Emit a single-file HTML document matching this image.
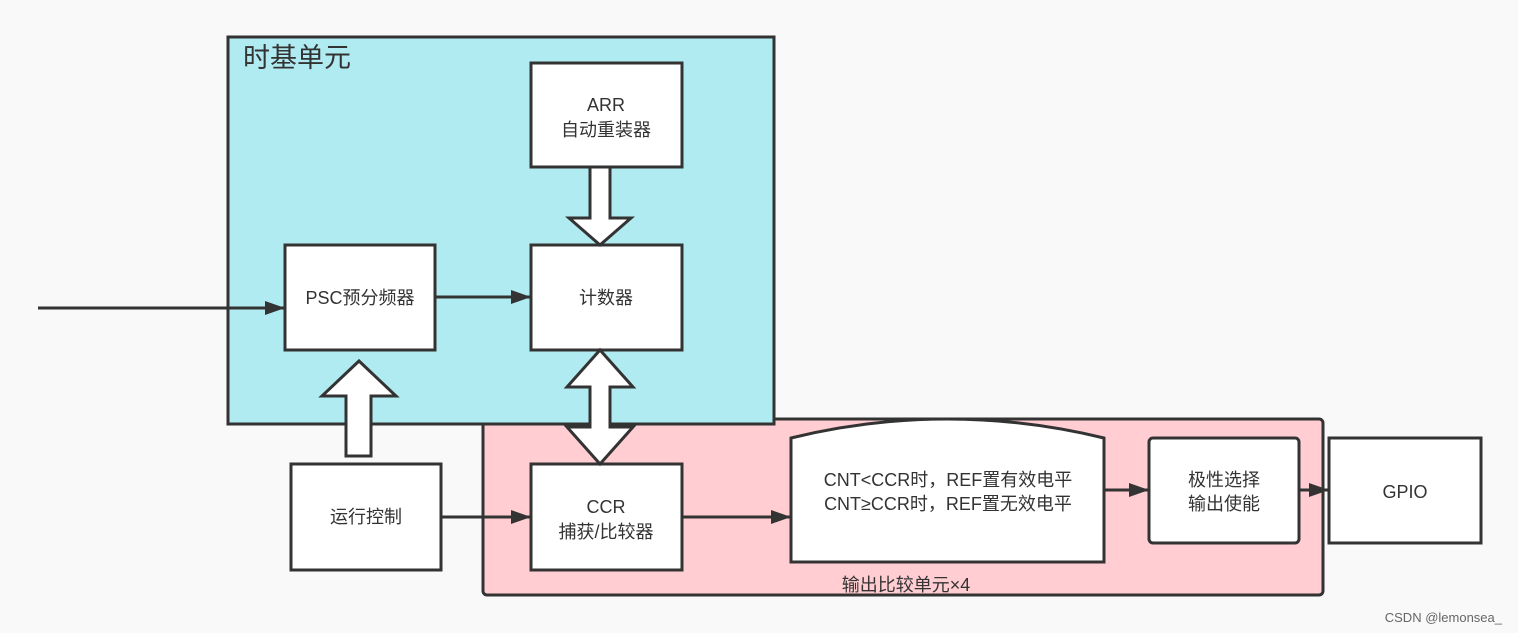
<!DOCTYPE html>
<html><head><meta charset="utf-8"><style>
body{margin:0;background:#f9f9f9;}
svg{display:block;font-family:"Liberation Sans","Noto Sans CJK SC",sans-serif;}
</style></head><body>
<svg width="1518" height="633" viewBox="0 0 1518 633">
<defs><marker id="a" markerWidth="10" markerHeight="10" refX="9" refY="5" orient="auto" markerUnits="userSpaceOnUse"><path d="M0,0 L20,5 L0,10z" fill="#333" transform="scale(0.5,1)"/></marker>
<marker id="b" viewBox="0 0 20 14" markerWidth="20" markerHeight="14" refX="20" refY="7" orient="auto" markerUnits="userSpaceOnUse"><path d="M0,0 L20,7 L0,14z" fill="#333"/></marker></defs>
<rect x="0" y="0" width="1518" height="633" fill="#f9f9f9"/>
<rect x="483" y="419" width="840" height="176" rx="4" fill="#ffcdd2" stroke="#333" stroke-width="3"/>
<rect x="228" y="37" width="546" height="387" fill="#b0ebf2" stroke="#333" stroke-width="3"/>
<text x="243" y="67" font-size="27" fill="#333">时基单元</text>
<g fill="#fff" stroke="#333" stroke-width="3">
<rect x="531" y="63" width="151" height="104"/>
<rect x="531" y="245" width="151" height="105"/>
<rect x="285" y="245" width="150" height="105"/>
<rect x="291" y="464" width="150" height="106"/>
<rect x="531" y="464" width="151" height="106"/>
<path d="M791,562 L791,438 Q947,400 1104,438 L1104,562 Z"/>
<rect x="1149" y="438" width="150" height="105" rx="4"/>
<rect x="1329" y="438" width="152" height="105"/>
<path d="M590,167 L610,167 L610,218 L631,218 L600,245 L569,218 L590,218 Z"/>
<path d="M346,456 L371,456 L371,396 L396,396 L359,361 L322,396 L346,396 Z"/>
<path d="M600,350 L633,387 L610,387 L610,427 L633,427 L600,464 L567,427 L590,427 L590,387 L567,387 Z"/>
</g>
<g stroke="#333" stroke-width="3" fill="none">
<line x1="38" y1="308" x2="285" y2="308" marker-end="url(#b)"/>
<line x1="435" y1="297" x2="531" y2="297" marker-end="url(#b)"/>
<line x1="441" y1="517" x2="531" y2="517" marker-end="url(#b)"/>
<line x1="682" y1="517" x2="791" y2="517" marker-end="url(#b)"/>
<line x1="1104" y1="490" x2="1149" y2="490" marker-end="url(#b)"/>
<line x1="1299" y1="490" x2="1329" y2="490" marker-end="url(#b)"/>
</g>
<g font-size="18" fill="#333" text-anchor="middle">
<text x="606" y="111">ARR</text><text x="606" y="136">自动重装器</text>
<text x="606" y="304">计数器</text>
<text x="360" y="304">PSC预分频器</text>
<text x="366" y="523">运行控制</text>
<text x="606" y="513">CCR</text><text x="606" y="538">捕获/比较器</text>
<text x="948" y="486">CNT&lt;CCR时，REF置有效电平</text>
<text x="948" y="510">CNT≥CCR时，REF置无效电平</text>
<text x="1224" y="486">极性选择</text><text x="1224" y="510">输出使能</text>
<text x="1405" y="498">GPIO</text>
<text x="906" y="591">输出比较单元×4</text>
</g>
<text x="1502" y="622" font-size="13" fill="#666" text-anchor="end">CSDN @lemonsea_</text>
</svg>
</body></html>
